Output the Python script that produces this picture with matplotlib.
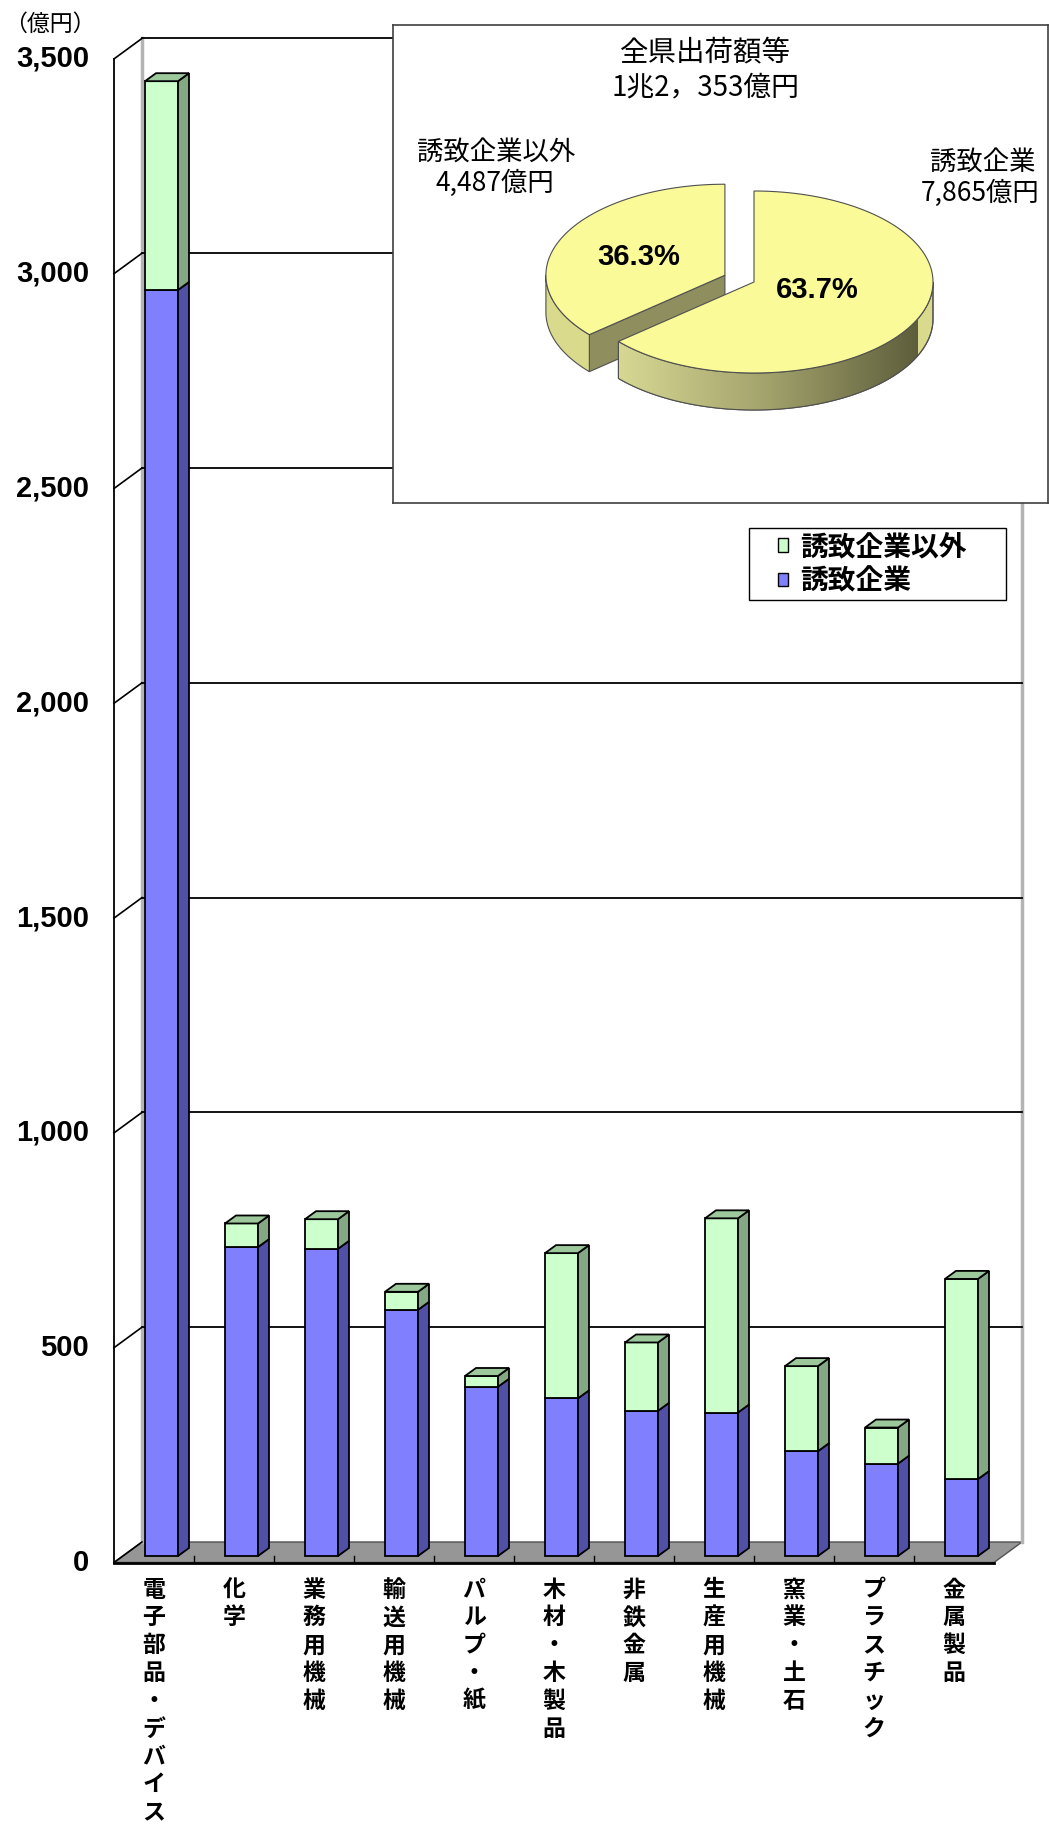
import numpy as np
import matplotlib
matplotlib.use("Agg")
import matplotlib.pyplot as plt
from matplotlib.patches import Polygon, Patch, Rectangle
from matplotlib.colors import LinearSegmentedColormap

plt.rcParams['font.family'] = ['Noto Sans CJK JP', 'DejaVu Sans']

# 業種別 出荷額等（億円）
categories = ["電子部品・デバイス", "化学", "業務用機械", "輸送用機械", "パルプ・紙",
              "木材・木製品", "非鉄金属", "生産用機械", "窯業・土石", "プラスチック", "金属製品"]
yuchi = [2947, 719, 715, 573, 394, 367, 338, 334, 244, 215, 179]
yuchi_igai = [486, 55, 69, 42, 25, 338, 159, 452, 198, 84, 466]
yticks = [0, 500, 1000, 1500, 2000, 2500, 3000, 3500]

# 全県出荷額等の内訳
pie_labels = ["誘致企業", "誘致企業以外"]
pie_values = [7865, 4487]

W, H = 1049, 1826
fig = plt.figure(figsize=(W / 100, H / 100), dpi=100)
ax = fig.add_axes([0, 0, 1, 1])

# pixel -> data (1 category = 80px, 1億円 = 0.4296px)
PPX, PPV = 80.0, 0.4296
X0, Y0 = 114, 1562.5
def dx(px): return (px - X0) / PPX
def dy(py): return (Y0 - py) / PPV

ax.set_xlim(dx(0), dx(W))
ax.set_ylim(dy(H), dy(0))
ax.axis('off')

n = len(categories)
WALL_X, WALL_Y = 28 / PPX, 20.5 / PPV
DEP_X, DEP_Y = 11 / PPX, 8 / PPV
BAR_OFF, BAR_W = 31 / PPX, 33 / PPX
BAR_LIFT = 6.5 / PPV

# 床
floor = Polygon([(0, 0), (n, 0), (n + WALL_X, WALL_Y), (WALL_X, WALL_Y)],
                closed=True, facecolor='#969696', edgecolor='#505050', lw=1, zorder=1)
ax.add_patch(floor)
ax.plot([0, n], [0, 0], color='k', lw=2, zorder=2)
for i in range(1, n):
    ax.plot([i, i], [0, 14], color='k', lw=1, zorder=2)

# 壁と目盛線
top = yticks[-1]
ax.plot([WALL_X, WALL_X], [WALL_Y, top + WALL_Y], color='#b4b4b4', lw=2.5, zorder=1)
ax.plot([n + WALL_X, n + WALL_X], [WALL_Y, top + WALL_Y], color='#b4b4b4', lw=2.5, zorder=1)
ax.plot([0, 0], [0, top], color='k', lw=1.3, zorder=2)
for v in yticks:
    ax.plot([0, WALL_X], [v, v + WALL_Y], color='k', lw=1.2, zorder=2)
    if v > 0:
        ax.plot([WALL_X, n + WALL_X], [v + WALL_Y, v + WALL_Y], color='k', lw=1.3, zorder=2)
    ax.text(dx(89), v, f"{v:,}", ha='right', va='center', family=['Liberation Sans'],
            weight='bold', fontsize=21)
ax.text(dx(4), dy(24), "（億円）", ha='left', va='center', fontsize=16.5)


def block(i, bottom, h, cf, cs, ct, with_top):
    x0 = i + BAR_OFF
    x1 = x0 + BAR_W
    b = BAR_LIFT + bottom
    t = b + h
    ax.bar(x0, h, BAR_W, bottom=b, align='edge', color=cf, edgecolor='k', lw=1.3, zorder=5)
    ax.add_patch(Polygon([(x1, b), (x1 + DEP_X, b + DEP_Y), (x1 + DEP_X, t + DEP_Y), (x1, t)],
                         closed=True, facecolor=cs, edgecolor='k', lw=1.3, zorder=5))
    if with_top:
        ax.add_patch(Polygon([(x0, t), (x1, t), (x1 + DEP_X, t + DEP_Y), (x0 + DEP_X, t + DEP_Y)],
                             closed=True, facecolor=ct, edgecolor='k', lw=1.3, zorder=5))


for i in range(n):
    block(i, 0, yuchi[i], '#8080FF', '#5050A6', '#6868D0', False)
    block(i, yuchi[i], yuchi_igai[i], '#CCFFCC', '#84A884', '#9CC89C', True)

# 縦書きの業種名
for i, name in enumerate(categories):
    for k, ch in enumerate(name):
        ax.text(i + 0.5, dy(1590 + 27.8 * k), ch, ha='center', va='center',
                fontsize=16.5, weight='bold')

# 凡例
ax.add_patch(Rectangle((dx(749), dy(600)), (1006 - 749) / PPX, (600 - 528) / PPV,
                       facecolor='white', edgecolor='k', lw=1, zorder=8))
leg = ax.legend(handles=[Patch(facecolor='#CCFFCC', edgecolor='k', lw=1),
                         Patch(facecolor='#8080FF', edgecolor='k', lw=1)],
                labels=["誘致企業以外", "誘致企業"], loc='upper left',
                bbox_to_anchor=(778 / W, 1 - 533 / H), bbox_transform=fig.transFigure,
                frameon=False, borderpad=0, borderaxespad=0, handlelength=0.35,
                handleheight=0.35, handletextpad=0.45, labelspacing=0.22,
                prop={'family': ['Noto Sans CJK JP'], 'weight': 'bold', 'size': 20})
leg.set_zorder(9)

# 円グラフ（全県）
pax = fig.add_axes([393 / W, 1 - 503 / H, 655 / W, 478 / H])
pax.set_xlim(393, 1048)
pax.set_ylim(503, 25)
pax.set_xticks([])
pax.set_yticks([])
for s in pax.spines.values():
    s.set_color('#404040')
    s.set_linewidth(1.2)

cx, cy, rx, ry, dep = 754, 282, 179, 91, 37
fr = np.array(pie_values) / sum(pie_values)
spans = [(90 - 360 * fr[0], 90), (90, 90 + 360 * fr[1])]
explode = [0, 32]
top_c, edge_c = '#FAFA98', '#505050'
grad = LinearSegmentedColormap.from_list('olive', ['#D8D894', '#A2A26C', '#5E5E3C'])


def ell(vx, vy, th):
    th = np.radians(th)
    return vx + rx * np.cos(th), vy - ry * np.sin(th)


def lower_arc(a0, a1):
    for lo, hi in [(-180, 0), (180, 360)]:
        s, e = max(a0, lo), min(a1, hi)
        if e > s:
            return s, e
    return None


for idx in [1, 0]:
    a0, a1 = spans[idx]
    mid = np.radians((a0 + a1) / 2)
    vx = cx + explode[idx] * np.cos(mid)
    vy = cy - explode[idx] * np.sin(mid) * ry / rx
    # 切り口
    if np.sin(np.radians(a1 + 90)) < 0:
        ex, ey = ell(vx, vy, a1)
        pax.add_patch(Polygon([(vx, vy), (ex, ey), (ex, ey + dep), (vx, vy + dep)],
                              closed=True, facecolor='#8E8E5E', edgecolor=edge_c, lw=0.8))
    arc = lower_arc(a0, a1)
    if arc:
        th = np.linspace(arc[0], arc[1], 80)
        px, py = ell(vx, vy, th)
        pts = list(zip(px, py)) + list(zip(px[::-1], py[::-1] + dep))
        side = Polygon(pts, closed=True, facecolor='#DADA8C', edgecolor=edge_c, lw=0.8)
        pax.add_patch(side)
        if idx == 0:
            g = np.linspace(0, 1, 256)[None, :]
            im = pax.imshow(g, extent=(px.min(), px.max() - 15, py.max() + dep, py.min()),
                            cmap=grad, aspect='auto', zorder=side.get_zorder() + 0.1)
            im.set_clip_path(side)
            pax.add_patch(Polygon(pts, closed=True, fill=False, edgecolor=edge_c, lw=0.8,
                                  zorder=side.get_zorder() + 0.2))
    th = np.linspace(a0, a1, 200)
    px, py = ell(vx, vy, th)
    pax.add_patch(Polygon([(vx, vy)] + list(zip(px, py)), closed=True,
                          facecolor=top_c, edgecolor=edge_c, lw=0.8, zorder=3))

pax.set_xlim(393, 1048)
pax.set_ylim(503, 25)

pct_pos = [(817, 290), (639, 257)]
for (tx, ty), f in zip(pct_pos, fr):
    pax.text(tx, ty, f"{100 * f:.1f}%", ha='center', va='center', zorder=6,
             family=['Liberation Sans Narrow', 'Liberation Sans'], weight='bold', fontsize=21)

pax.text(705, 52, "全県出荷額等", ha='center', va='center', fontsize=20.5)
pax.text(705, 87, "1兆2，353億円", ha='center', va='center', fontsize=20)
pax.text(496, 153, pie_labels[1], ha='center', va='center', fontsize=19)
pax.text(495, 183, f"{pie_values[1]:,}億円", ha='center', va='center', fontsize=19)
pax.text(983, 163, pie_labels[0], ha='center', va='center', fontsize=19)
pax.text(980, 193, f"{pie_values[0]:,}億円", ha='center', va='center', fontsize=19)

fig.savefig("out.png", dpi=100)
